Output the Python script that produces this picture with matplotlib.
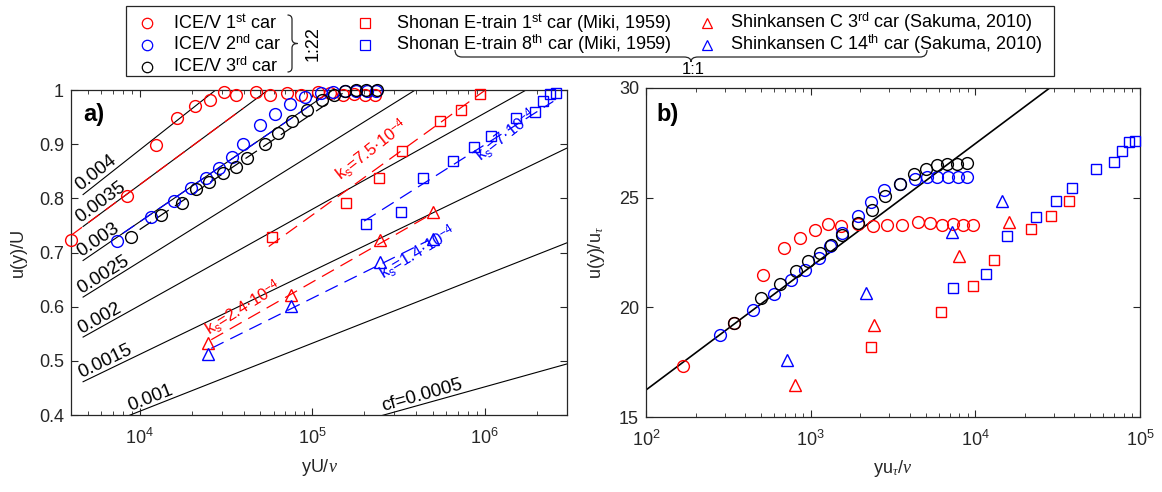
import numpy as np
import matplotlib
matplotlib.use('Agg')
import matplotlib.pyplot as plt
from matplotlib.lines import Line2D
from matplotlib.patches import Rectangle, PathPatch
from matplotlib.path import Path
from matplotlib.ticker import FixedLocator, FuncFormatter, NullLocator

plt.rcParams['font.family'] = ['Liberation Sans', 'DejaVu Sans']
plt.rcParams['mathtext.fontset'] = 'custom'
plt.rcParams['mathtext.rm'] = 'Liberation Sans'
plt.rcParams['mathtext.it'] = 'Liberation Serif:italic'
plt.rcParams['mathtext.bf'] = 'Liberation Sans:bold'
plt.rcParams['font.size'] = 13

# log-law constants for the Clauser lines
KAPPA = 0.41
B_CONST = 5.0

# ---- panel a: u/U against yU/nu ----
ice1_a_x = [4020, 8440, 12500, 16560, 20850, 25700, 30700, 36400, 47500, 57300, 71500, 86600,
            108200, 127000, 150000, 174500, 202600, 231000]
ice1_a_y = [0.724, 0.804, 0.899, 0.949, 0.970, 0.982, 0.996, 0.990, 0.996, 0.991, 0.995, 0.991,
            0.996, 0.994, 0.991, 0.993, 0.990, 0.991]
ice2_a_x = [7430, 11650, 15880, 19920, 24250, 28700, 34300, 39700, 50100, 60700, 74100, 91100,
            112700, 132800, 154000, 180000, 207000, 235000]
ice2_a_y = [0.721, 0.766, 0.795, 0.819, 0.837, 0.856, 0.877, 0.900, 0.935, 0.955, 0.975, 0.987,
            0.994, 0.997, 0.998, 0.999, 0.999, 0.999]
ice3_a_x = [8890, 13360, 17600, 21100, 25300, 30500, 36100, 42000, 53200, 63000, 75900, 93500,
            113300, 133600, 154700, 179000, 206500, 236000]
ice3_a_y = [0.729, 0.769, 0.792, 0.817, 0.830, 0.846, 0.858, 0.875, 0.900, 0.921, 0.942, 0.963,
            0.981, 0.991, 0.998, 1.0, 1.0, 1.0]
shonan1_a_x = [58700, 157000, 242800, 332600, 552000, 728000, 937000]
shonan1_a_y = [0.728, 0.792, 0.838, 0.887, 0.943, 0.964, 0.993]
shonan8_a_x = [206000, 326000, 439000, 656000, 864000, 1085000, 1514000, 1950000, 2180000,
               2405000, 2606000]
shonan8_a_y = [0.752, 0.775, 0.838, 0.869, 0.895, 0.916, 0.948, 0.960, 0.980, 0.993, 0.994]
shink3_a_x = [24900, 75700, 248000, 501000]
shink3_a_y = [0.533, 0.622, 0.723, 0.774]
shink14_a_x = [24900, 75700, 248000, 501000]
shink14_a_y = [0.513, 0.601, 0.683, 0.725]

# Clauser chart lines
cf_values = [0.004, 0.0035, 0.003, 0.0025, 0.002, 0.0015, 0.001, 0.0005]
cf_labels = ['0.004', '0.0035', '0.003', '0.0025', '0.002', '0.0015', '0.001', 'cf=0.0005']
CF_X_START = 4700

# ICE/V fits (cf, x range)
ice_fit_cf = [0.0035, 0.003, 0.0029]
ice_fit_xmin = [4000, 8000, 10000]
ice_fit_xmax = [40000, 130000, 150000]
ice_fit_colors = ['red', 'blue', 'black']

# rough wall fits (end points)
shonan1_fit_x = [56000, 1.0e6]
shonan1_fit_y = [0.711, 0.999]
shonan8_fit_x = [2.0e5, 2.5e6]
shonan8_fit_y = [0.758, 0.979]
shink3_fit_x = [26000, 4.8e5]
shink3_fit_y = [0.539, 0.769]
shink14_fit_x = [26000, 4.7e5]
shink14_fit_y = [0.523, 0.722]

# ---- panel b: u+ against y+ ----
ice1_b_x = [168, 342, 513, 689, 865, 1067, 1274, 1521, 1946, 2399, 2918, 3597, 4463, 5302, 6240,
            7277, 8448, 9640]
ice1_b_y = [17.33, 19.27, 21.49, 22.70, 23.18, 23.51, 23.79, 23.70, 23.82, 23.73, 23.77, 23.74,
            23.88, 23.85, 23.77, 23.82, 23.74, 23.77]
ice2_b_x = [281, 444, 601, 763, 927, 1122, 1309, 1549, 1929, 2312, 2797, 3470, 4295, 5058, 5871,
            6852, 7883, 8940]
ice2_b_y = [18.74, 19.88, 20.59, 21.23, 21.71, 22.24, 22.79, 23.39, 24.18, 24.79, 25.33, 25.64,
            25.86, 25.92, 25.95, 25.95, 25.95, 25.95]
ice3_b_x = [342, 497, 651, 812, 964, 1134, 1334, 1556, 1946, 2346, 2812, 3470, 4254, 5012, 5818,
            6745, 7762, 8855]
ice3_b_y = [19.27, 20.41, 21.08, 21.65, 22.09, 22.49, 22.85, 23.30, 23.85, 24.42, 25.09, 25.62,
            26.09, 26.32, 26.47, 26.55, 26.55, 26.58]
shonan1_b_x = [2312, 6150, 9640, 13030, 21660, 28660, 37000]
shonan1_b_y = [18.21, 19.80, 20.97, 22.18, 23.58, 24.15, 24.83]
shonan8_b_x = [7350, 11590, 15640, 23330, 30760, 38750, 53700, 69450, 77700, 86000, 93500]
shonan8_b_y = [20.86, 21.53, 23.27, 24.12, 24.85, 25.42, 26.29, 26.62, 27.15, 27.55, 27.58]
shink3_b_x = [807, 2411, 7980, 16000]
shink3_b_y = [16.45, 19.18, 22.33, 23.88]
shink14_b_x = [714, 2169, 7178, 14450]
shink14_b_y = [17.59, 20.65, 23.42, 24.83]

legend_labels = ['ICE/V 1$^{\\mathrm{st}}$ car', 'ICE/V 2$^{\\mathrm{nd}}$ car',
                 'ICE/V 3$^{\\mathrm{rd}}$ car',
                 'Shonan E-train 1$^{\\mathrm{st}}$ car (Miki, 1959)',
                 'Shonan E-train 8$^{\\mathrm{th}}$ car (Miki, 1959)',
                 'Shinkansen C 3$^{\\mathrm{rd}}$ car (Sakuma, 2010)',
                 'Shinkansen C 14$^{\\mathrm{th}}$ car (Sakuma, 2010)']

GRAY = '#262626'
W, H = 1162, 492


def clauser(x, cf):
    ut = np.sqrt(cf / 2.0)
    return ut * (np.log(np.asarray(x) * ut) / KAPPA + B_CONST)


def fx(px):
    return px / W


def fy(py):
    return 1 - py / H


def style_axes(ax):
    ax.set_xscale('log')
    ax.tick_params(which='both', direction='in', top=True, right=True, color=GRAY,
                   labelcolor=GRAY, labelsize=13)
    ax.tick_params(which='major', length=5, width=0.8)
    ax.tick_params(which='minor', length=3, width=0.6)
    ax.tick_params(axis='y', pad=5)
    ax.tick_params(axis='x', pad=9)
    ax.yaxis.set_minor_locator(NullLocator())
    for s in ax.spines.values():
        s.set_color(GRAY)
        s.set_linewidth(0.9)


fig = plt.figure(figsize=(W / 100, H / 100), dpi=100)
ax1 = fig.add_axes([fx(71), fy(415), fx(567) - fx(71), fy(90) - fy(415)])
ax2 = fig.add_axes([fx(646), fy(417), fx(1140) - fx(646), fy(88) - fy(417)])
style_axes(ax1)
style_axes(ax2)

# ---------- panel a ----------
ax1.set_xlim(4000, 3e6)
ax1.set_ylim(0.4, 1.0)
ax1.yaxis.set_major_locator(FixedLocator(np.arange(0.4, 1.01, 0.1)))
ax1.yaxis.set_major_formatter(FuncFormatter(lambda v, _: f'{v:g}'))

xx = np.logspace(np.log10(CF_X_START), np.log10(3e6), 300)
for cf, lab in zip(cf_values, cf_labels):
    yy = clauser(xx, cf)
    ax1.plot(xx, yy, color='k', lw=0.8, zorder=1)
    i0 = int(np.argmax(yy >= 0.4))
    x0, y0 = xx[i0], yy[i0]
    p0 = ax1.transData.transform((x0, y0))
    p1 = ax1.transData.transform((x0 * 10, clauser(x0 * 10, cf)))
    ang = np.degrees(np.arctan2(p1[1] - p0[1], p1[0] - p0[0]))
    ax1.text(x0, y0, lab, rotation=ang, rotation_mode='anchor', ha='left', va='bottom',
             fontsize=13.5, color='k')

for cf, x_lo, x_hi, col in zip(ice_fit_cf, ice_fit_xmin, ice_fit_xmax, ice_fit_colors):
    xf = np.logspace(np.log10(x_lo), np.log10(x_hi), 50)
    ax1.plot(xf, clauser(xf, cf), color=col, lw=0.9, ls=(0, (11, 6)), zorder=2)

dash = (0, (11, 6))
ax1.plot(shonan1_fit_x, shonan1_fit_y, color='red', lw=0.9, ls=dash)
ax1.plot(shonan8_fit_x, shonan8_fit_y, color='blue', lw=0.9, ls=dash)
ax1.plot(shink3_fit_x, shink3_fit_y, color='red', lw=0.9, ls=dash)
ax1.plot(shink14_fit_x, shink14_fit_y, color='blue', lw=0.9, ls=dash)

mk = dict(ls='none', mfc='none', mew=1.0, zorder=3, clip_on=False)
ax1.plot(ice1_a_x, ice1_a_y, marker='o', ms=8.5, mec='red', **mk)
ax1.plot(ice2_a_x, ice2_a_y, marker='o', ms=8.5, mec='blue', **mk)
ax1.plot(ice3_a_x, ice3_a_y, marker='o', ms=8.5, mec='black', **mk)
ax1.plot(shonan1_a_x, shonan1_a_y, marker='s', ms=7, mec='red', **mk)
ax1.plot(shonan8_a_x, shonan8_a_y, marker='s', ms=7, mec='blue', **mk)
ax1.plot(shink3_a_x, shink3_a_y, marker='^', ms=9, mec='red', **mk)
ax1.plot(shink14_a_x, shink14_a_y, marker='^', ms=9, mec='blue', **mk)

ks = dict(rotation_mode='anchor', ha='left', va='baseline', fontsize=12)
ax1.text(1.47e5, 0.832, 'k$_{\\mathrm{s}}$=7.5\u00b710$^{\\mathrm{-4}}$', color='red', rotation=38, **ks)
ax1.text(9.5e5, 0.867, 'k$_{\\mathrm{s}}$=7\u00b710$^{\\mathrm{-4}}$', color='blue', rotation=38, **ks)
ax1.text(2.52e4, 0.546, 'k$_{\\mathrm{s}}$=2.4\u00b710$^{\\mathrm{-4}}$', color='red', rotation=32, **ks)
ax1.text(2.58e5, 0.649, 'k$_{\\mathrm{s}}$=1.4\u00b710$^{\\mathrm{-4}}$', color='blue', rotation=31, **ks)

ax1.text(0.024, 0.905, 'a)', transform=ax1.transAxes, fontsize=17, fontweight='bold',
         va='baseline')
ax1.set_xlabel('yU/$\\nu$', fontsize=13, color=GRAY)
ax1.set_ylabel('u(y)/U', fontsize=13, color=GRAY)
ax1.xaxis.set_label_coords(0.5, -0.13)
ax1.yaxis.set_label_coords(-0.088, 0.5)

# ---------- panel b ----------
ax2.set_xlim(100, 1e5)
ax2.set_ylim(15, 30)
ax2.yaxis.set_major_locator(FixedLocator([15, 20, 25, 30]))
xl = np.logspace(2, 5, 200)
ax2.plot(xl, np.log(xl) / KAPPA + B_CONST, color='k', lw=1.2, zorder=1)

ax2.plot(ice1_b_x, ice1_b_y, marker='o', ms=8.5, mec='red', **mk)
ax2.plot(ice2_b_x, ice2_b_y, marker='o', ms=8.5, mec='blue', **mk)
ax2.plot(ice3_b_x, ice3_b_y, marker='o', ms=8.5, mec='black', **mk)
ax2.plot(shonan1_b_x, shonan1_b_y, marker='s', ms=7, mec='red', **mk)
ax2.plot(shonan8_b_x, shonan8_b_y, marker='s', ms=7, mec='blue', **mk)
ax2.plot(shink3_b_x, shink3_b_y, marker='^', ms=9, mec='red', **mk)
ax2.plot(shink14_b_x, shink14_b_y, marker='^', ms=9, mec='blue', **mk)

ax2.text(0.022, 0.90, 'b)', transform=ax2.transAxes, fontsize=17, fontweight='bold',
         va='baseline')
ax2.set_xlabel('yu$_{\\tau}$/$\\nu$', fontsize=13, color=GRAY)
ax2.set_ylabel('u(y)/u$_{\\tau}$', fontsize=13, color=GRAY)
ax2.xaxis.set_label_coords(0.5, -0.125)
ax2.yaxis.set_label_coords(-0.078, 0.5)

# ---------- legend (drawn by hand, MATLAB style) ----------
leg_markers = ['o', 'o', 'o', 's', 's', '^', '^']
leg_colors = ['red', 'blue', 'black', 'red', 'blue', 'red', 'blue']
leg_marker_px = [(147, 23), (147, 45), (147, 67), (365, 23), (365, 45), (707, 23), (707, 45)]
leg_text_px = [(173, 28.5), (173, 50.5), (173, 72.5), (396, 28.5), (396, 50.5), (730, 28.5),
               (730, 50.5)]
leg_ms = {'o': 7.5, 's': 6.5, '^': 7.5}

renderer = fig.canvas.get_renderer()
right_px = 0
for lab, m, c, (mx, my), (tx, ty) in zip(legend_labels, leg_markers, leg_colors, leg_marker_px,
                                         leg_text_px):
    fig.add_artist(Line2D([fx(mx)], [fy(my)], marker=m, ms=leg_ms[m], mfc='none', mec=c,
                          mew=0.9, ls='none', transform=fig.transFigure))
    t = fig.text(fx(tx), fy(ty), lab, ha='left', va='baseline', fontsize=13, color='k')
    right_px = max(right_px, t.get_window_extent(renderer).x1)

box_l, box_t, box_b = 126, 6, 76
box_r = right_px + 12
fig.add_artist(Rectangle((fx(box_l), fy(box_b)), fx(box_r) - fx(box_l), fy(box_t) - fy(box_b),
                         transform=fig.transFigure, fill=False, ec=GRAY, lw=0.9))


def brace(x0, y0, x1, y1, depth, r, vertical):
    # curly brace in pixel coords, returned as a figure-fraction path
    if vertical:
        xm, ym = x0 + r, (y0 + y1) / 2
        pts = [(x0, y0), (xm, y0), (xm, y0 + r), (xm, ym - r), (xm, ym), (x0 + depth, ym),
               (xm, ym), (xm, ym + r), (xm, y1 - r), (xm, y1), (x0, y1)]
    else:
        xm, ym = (x0 + x1) / 2, y0 + r
        pts = [(x0, y0), (x0, ym), (x0 + r, ym), (xm - r, ym), (xm, ym), (xm, y0 + depth),
               (xm, ym), (xm + r, ym), (x1 - r, ym), (x1, ym), (x1, y0)]
    codes = [Path.MOVETO, Path.CURVE3, Path.CURVE3, Path.LINETO, Path.CURVE3, Path.CURVE3,
             Path.CURVE3, Path.CURVE3, Path.LINETO, Path.CURVE3, Path.CURVE3]
    return Path([(fx(a), fy(b)) for a, b in pts], codes)


fig.add_artist(PathPatch(brace(287.5, 15, None, 72, 10, 4.5, True), fill=False, ec=GRAY, lw=0.9,
                         transform=fig.transFigure))
fig.add_artist(PathPatch(brace(455, 50, 927, None, 12, 7, False), fill=False, ec=GRAY, lw=0.9,
                         transform=fig.transFigure))
fig.text(fx(313), fy(44), '1:22', rotation=90, ha='center', va='center', fontsize=13)
fig.text(fx(693), fy(70), '1:1', ha='center', va='center', fontsize=12)

fig.savefig('out.png', dpi=100)
